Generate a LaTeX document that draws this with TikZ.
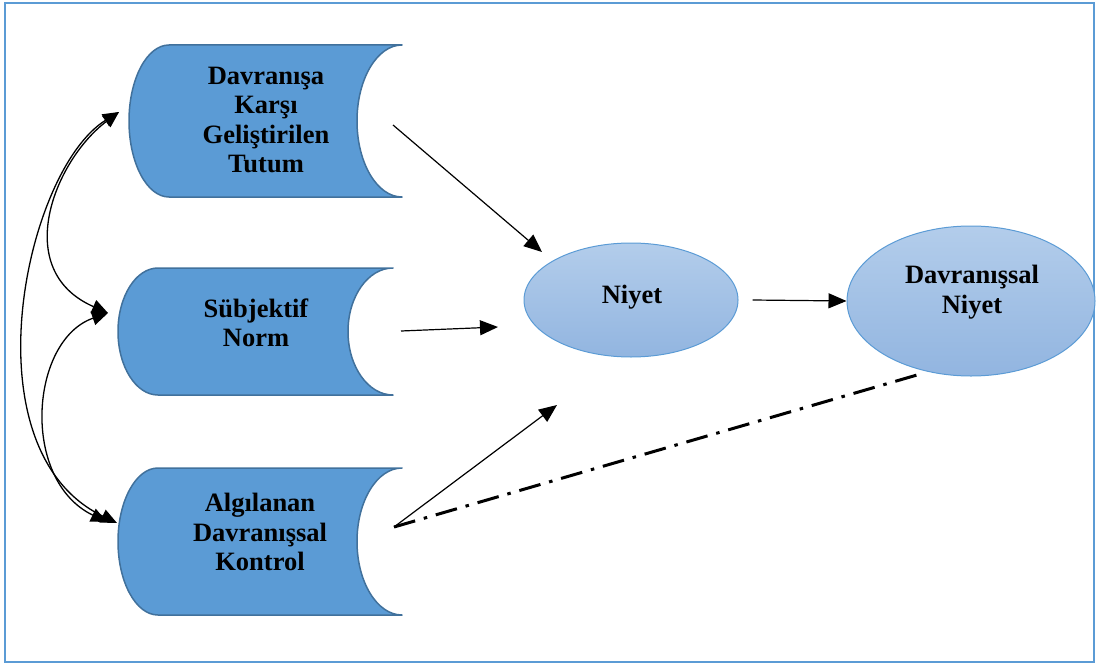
\documentclass[tikz,border=0pt]{standalone}
\usepackage{fontspec}
\setmainfont{Liberation Serif}
\usetikzlibrary{shapes.geometric,arrows.meta,calc}
\definecolor{boxfill}{HTML}{5B9BD5}
\definecolor{boxline}{HTML}{41719C}
\definecolor{framecol}{HTML}{5B9BD5}
\definecolor{elltop}{HTML}{B3CDEB}
\definecolor{ellbot}{HTML}{92B5E0}
\definecolor{ellline}{HTML}{5B9BD5}
\newcommand\storagebox[5]{%
  \node[boxnode, minimum width={#4-#2}, minimum height={#5-#3}] (#1) at ({(#2+#4)/2},{(#3+#5)/2}) {};
  \draw[boxstyle] ({#2+40},#3) -- (#4,#3)
    .. controls ({#4-0.5523*45},#3) and ({#4-45},{(#3+#5)/2-0.5523*(#5-#3)/2}) .. ({#4-45},{(#3+#5)/2})
    .. controls ({#4-45},{(#3+#5)/2+0.5523*(#5-#3)/2}) and ({#4-0.5523*45},#5) .. (#4,#5)
    -- ({#2+40},#5)
    .. controls ({#2+40-0.5523*40},#5) and (#2,{(#3+#5)/2+0.5523*(#5-#3)/2}) .. (#2,{(#3+#5)/2})
    .. controls (#2,{(#3+#5)/2-0.5523*(#5-#3)/2}) and ({#2+40-0.5523*40},#3) .. ({#2+40},#3) -- cycle;
}
\begin{document}
\begin{tikzpicture}[x=1pt,y=-1pt,
  boxnode/.style={draw=none, inner sep=0pt},
  boxstyle/.style={fill=boxfill, draw=boxline, line width=1.5pt, line join=round},
  lbl/.style={font=\fontsize{26.5}{29.5}\selectfont\bfseries, align=center, inner sep=0pt, text=black},
  ell/.style={ellipse, draw=ellline, line width=1pt, top color=elltop, bottom color=ellbot, inner sep=0pt},
  arr/.style={line width=1.2pt, -{Triangle[length=18pt,width=15pt]}},
  curv/.style={line width=1.3pt, {Triangle[length=16pt,width=14pt]}-{Triangle[length=16pt,width=14pt]}},
  dashdot/.style={line width=3pt, dash pattern=on 22pt off 9pt on 3.5pt off 9pt}
]
\useasboundingbox (0,0) rectangle (1099,666);
\draw[framecol, line width=2.5pt] (5,3) rectangle (1094,662);

\storagebox{s1}{129}{45}{402}{197}
\storagebox{s2}{118}{268}{393}{395}
\storagebox{s3}{118}{468}{402}{615}

\node[lbl] (t1) at (266,120) {Davranışa\\Karşı\\Geliştirilen\\Tutum};
\node[lbl] (t2) at (256,323) {Sübjektif\\Norm};
\node[lbl] (t3) at (260,532) {Algılanan\\Davranışsal\\Kontrol};

\node[ell, minimum width=214pt, minimum height=114pt] (n) at (631,300) {};
\node[ell, minimum width=248pt, minimum height=150pt] (dn) at (971,301) {};
\node[lbl] (tn) at (632,297) {Niyet};
\node[lbl] (tdn) at (972,292) {Davranışsal\\Niyet};

\coordinate (a1s) at (393,125);
\coordinate (a1e) at (542,252);
\coordinate (a2s) at (401,331);
\coordinate (a2e) at (498,327);
\coordinate (a3s) at (394,527);
\coordinate (a3e) at (557,405);
\coordinate (dd) at (917,375);

\draw[arr] (a1s) -- (a1e);
\draw[arr] (a2s) -- (a2e);
\draw[arr] (a3s) -- (a3e);
\draw[arr] ([xshift=14pt]n.east) -- (dn.west);
\draw[dashdot] (a3s) -- (dd);

\coordinate (p1) at (119,112);
\coordinate (p2) at (108,313);
\coordinate (p3a) at (107,522);
\coordinate (p3b) at (117,523);

\draw[curv] (p1) .. controls (55,160) and (10,270) .. (p2);
\draw[curv] (p1) .. controls (25,170) and (-35,450) .. (p3b);
\draw[curv] (p2) .. controls (30,340) and (20,480) .. (p3a);
\end{tikzpicture}
\end{document}
